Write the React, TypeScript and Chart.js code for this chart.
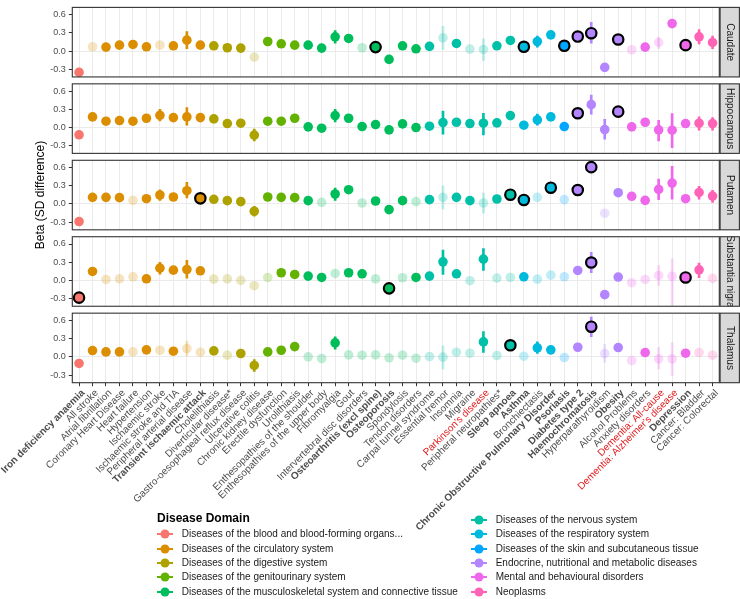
import React, { useEffect, useRef } from 'react';
import { Chart, registerables } from 'chart.js';

Chart.register(...registerables);

const FONT = "'Liberation Sans', Arial, Helvetica, sans-serif";

// Diseases on the x axis, grouped by domain
const categories = [
  'Iron deficiency anaemia',
  'All stroke', 'Atrial fibrillation', 'Coronary Heart Disease', 'Heart failure', 'Hypertension',
  'Ischaemic stroke', 'Ischaemic stroke and TIA', 'Peripheral arterial disease', 'Transient ischaemic attack',
  'Cholelithiasis', 'Diverticular disease*', 'Gastro-oesophageal reflux disease', 'Ulcerative colitis',
  'Chronic kidney disease', 'Erectile dysfunction', 'Urolithiasis',
  'Enthesopathies of the shoulder', 'Enthesopathies of the upper body', 'Fibromyalgia', 'Gout',
  'Intervertebral disc disorders', 'Osteoarthritis (excl spine)', 'Osteoporosis', 'Spondylosis', 'Tendon disorders',
  'Carpal tunnel syndrome', 'Essential tremor', 'Insomnia', 'Migraine', "Parkinson's disease",
  'Peripheral neuropathies*', 'Sleep apnoea',
  'Asthma', 'Bronchiectasis', 'Chronic Obstructive Pulmonary Disorder',
  'Psoriasis',
  'Diabetes type 2', 'Haemochromatosis', 'Hyperparathyroidism', 'Obesity',
  'Alcohol Problems', 'Anxiety disorders', 'Dementia: All-cause', "Dementia: Alzheimer's disease", 'Depression',
  'Cancer: Bladder', 'Cancer: Colorectal',
];

const boldLabels = [
  'Iron deficiency anaemia', 'Transient ischaemic attack', 'Osteoarthritis (excl spine)', 'Osteoporosis',
  'Sleep apnoea', 'Asthma', 'Chronic Obstructive Pulmonary Disorder', 'Psoriasis', 'Diabetes type 2',
  'Haemochromatosis', 'Obesity', 'Depression',
];
const redLabels = ["Parkinson's disease", 'Dementia: All-cause', "Dementia: Alzheimer's disease"];

const domainNames = [
  'Diseases of the blood and blood-forming organs...',
  'Diseases of the circulatory system',
  'Diseases of the digestive system',
  'Diseases of the genitourinary system',
  'Diseases of the musculoskeletal system and connective tissue',
  'Diseases of the nervous system',
  'Diseases of the respiratory system',
  'Diseases of the skin and subcutaneous tissue',
  'Endocrine, nutritional and metabolic diseases',
  'Mental and behavioural disorders',
  'Neoplasms',
];
const domainColors = [
  '#F8766D', '#DB8E00', '#AEA200', '#64B200', '#00BD5C', '#00C1A7',
  '#00BADE', '#00A6FF', '#B385FF', '#EF67EB', '#FF63B6',
];
// domain index of each disease
const categoryDomain = [
  0,
  1, 1, 1, 1, 1, 1, 1, 1, 1,
  2, 2, 2, 2,
  3, 3, 3,
  4, 4, 4, 4, 4, 4, 4, 4, 4,
  5, 5, 5, 5, 5, 5, 5,
  6, 6, 6,
  7,
  8, 8, 8, 8,
  9, 9, 9, 9, 9,
  10, 10,
];

// status: 0 = not significant, 1 = significant, 2 = significant after correction
const caudateBeta = [
  -0.35, 0.071, 0.066, 0.098, 0.109, 0.071, 0.098, 0.087, 0.18, 0.098,
  0.087, 0.055, 0.049, -0.098, 0.158, 0.12, 0.098, 0.098, 0.049, 0.235,
  0.208, 0.055, 0.066, -0.137, 0.087, 0.038, 0.077, 0.219, 0.126, 0.033,
  0.027, 0.087, 0.175, 0.071, 0.158, 0.268, 0.087, 0.24, 0.295, -0.268,
  0.191, 0.022, 0.066, 0.142, 0.453, 0.098, 0.235, 0.142,
];
const caudateStatus = [
  1, 0, 1, 1, 1, 1, 0, 1, 1, 1,
  1, 1, 1, 0, 1, 1, 1, 1, 1, 1,
  1, 0, 2, 1, 1, 1, 1, 0, 1, 0,
  0, 1, 1, 2, 1, 1, 2, 2, 2, 1,
  2, 0, 1, 0, 1, 2, 1, 1,
];
const caudateCI = [
  [8, 0.038, 0.322], [19, 0.131, 0.339], [27, 0.022, 0.41], [30, -0.153, 0.202], [34, 0.066, 0.246],
  [38, 0.13, 0.475], [43, 0.038, 0.23], [46, 0.12, 0.355], [47, 0.038, 0.246],
];

const hippocampusBeta = [
  -0.12, 0.175, 0.104, 0.115, 0.104, 0.153, 0.202, 0.164, 0.175, 0.164,
  0.142, 0.066, 0.071, -0.126, 0.104, 0.104, 0.153, 0.011, -0.011, 0.197,
  0.153, 0.016, 0.049, -0.038, 0.06, 0.0, 0.022, 0.082, 0.087, 0.066,
  0.071, 0.077, 0.197, 0.038, 0.126, 0.175, 0.016, 0.235, 0.377, -0.033,
  0.262, 0.011, 0.087, -0.038, -0.044, 0.066, 0.071, 0.066,
];
const hippocampusStatus = [
  1, 1, 1, 1, 1, 1, 1, 1, 1, 1,
  1, 1, 1, 1, 1, 1, 1, 1, 1, 1,
  1, 1, 1, 1, 1, 1, 1, 1, 1, 1,
  1, 1, 1, 1, 1, 1, 1, 2, 1, 1,
  2, 1, 1, 1, 1, 1, 1, 1,
];
const hippocampusCI = [
  [6, 0.11, 0.3], [8, 0.04, 0.33], [13, -0.22, -0.027], [19, 0.093, 0.3], [27, -0.11, 0.27],
  [30, -0.12, 0.235], [34, 0.038, 0.22], [38, 0.22, 0.535], [39, -0.19, 0.137], [43, -0.22, 0.12],
  [44, -0.33, 0.23], [46, -0.044, 0.175], [47, -0.044, 0.164],
];

const putamenBeta = [
  -0.29, 0.109, 0.109, 0.104, 0.06, 0.087, 0.148, 0.115, 0.219, 0.093,
  0.077, 0.055, 0.038, -0.12, 0.115, 0.109, 0.104, 0.055, 0.027, 0.164,
  0.235, 0.016, 0.049, -0.093, 0.055, 0.038, 0.071, 0.109, 0.109, 0.055,
  0.016, 0.082, 0.153, 0.066, 0.109, 0.268, 0.071, 0.23, 0.607, -0.153,
  0.186, 0.126, 0.06, 0.24, 0.344, 0.087, 0.19, 0.131,
];
const putamenStatus = [
  1, 1, 1, 1, 0, 1, 1, 1, 1, 2,
  1, 1, 1, 1, 1, 1, 1, 1, 0, 1,
  1, 0, 1, 1, 1, 0, 1, 0, 1, 1,
  0, 1, 2, 2, 0, 2, 0, 2, 2, 0,
  1, 1, 1, 1, 1, 1, 1, 1,
];
const putamenCI = [
  [6, 0.06, 0.235], [8, 0.1, 0.355], [13, -0.2, -0.038], [19, 0.06, 0.26], [27, -0.08, 0.3],
  [30, -0.15, 0.18], [43, 0.07, 0.41], [44, 0.08, 0.62], [46, 0.08, 0.29], [47, 0.027, 0.224],
];

const nigraBeta = [
  -0.284, 0.148, 0.016, 0.027, 0.06, 0.027, 0.202, 0.169, 0.18, 0.158,
  0.022, 0.027, 0.0, -0.087, 0.049, 0.126, 0.098, 0.071, 0.049, 0.115,
  0.126, 0.109, 0.027, -0.131, 0.044, 0.049, 0.071, 0.306, 0.109, -0.005,
  0.35, 0.038, 0.049, 0.06, 0.022, 0.087, 0.06, 0.164, 0.295, -0.235,
  0.055, -0.038, 0.016, 0.082, 0.066, 0.049, 0.175, 0.033,
];
const nigraStatus = [
  2, 1, 0, 0, 0, 1, 1, 1, 1, 1,
  0, 0, 0, 0, 0, 1, 1, 1, 1, 0,
  1, 1, 0, 2, 0, 1, 1, 1, 1, 0,
  1, 0, 0, 1, 0, 0, 0, 1, 2, 1,
  1, 0, 0, 0, 0, 2, 1, 0,
];
const nigraCI = [
  [6, 0.104, 0.3], [8, 0.038, 0.33], [27, 0.1, 0.5], [30, 0.164, 0.525], [38, 0.126, 0.464],
  [43, -0.082, 0.246], [44, -0.41, 0.355], [46, 0.044, 0.284],
];

const thalamusBeta = [
  -0.109, 0.104, 0.082, 0.082, 0.082, 0.115, 0.109, 0.093, 0.137, 0.077,
  0.098, 0.027, 0.055, -0.142, 0.082, 0.109, 0.169, 0.0, -0.027, 0.23,
  0.033, 0.027, 0.033, -0.016, 0.027, -0.022, 0.005, -0.005, 0.077, 0.06,
  0.246, 0.022, 0.19, 0.011, 0.148, 0.115, -0.011, 0.158, 0.497, 0.055,
  0.153, -0.06, 0.071, -0.033, -0.033, 0.06, 0.071, 0.027,
];
const thalamusStatus = [
  1, 1, 1, 1, 0, 1, 0, 1, 0, 0,
  1, 0, 1, 1, 1, 1, 1, 0, 0, 1,
  0, 0, 0, 0, 0, 0, 0, 0, 0, 0,
  1, 0, 2, 0, 1, 1, 0, 1, 2, 0,
  1, 0, 1, 0, 0, 1, 0, 0,
];
const thalamusCI = [
  [8, 0.016, 0.26], [13, -0.24, -0.044], [19, 0.126, 0.328], [27, -0.2, 0.18], [30, 0.071, 0.415],
  [34, 0.055, 0.246], [38, 0.333, 0.656], [39, -0.093, 0.208], [43, -0.2, 0.153], [44, -0.31, 0.235],
];

const panelNames = ['Caudate', 'Hippocampus', 'Putamen', 'Substantia nigra', 'Thalamus'];
const panelBeta = [caudateBeta, hippocampusBeta, putamenBeta, nigraBeta, thalamusBeta];
const panelStatus = [caudateStatus, hippocampusStatus, putamenStatus, nigraStatus, thalamusStatus];
const panelCI = [caudateCI, hippocampusCI, putamenCI, nigraCI, thalamusCI];

const yTickValues = [-0.3, 0, 0.3, 0.6];

// facet geometry: each facet shows PANEL_MIN..PANEL_MAX, facets separated by a gap
const PANEL_MIN = -0.426;
const PANEL_MAX = 0.72;
const PANEL_H = 70.5;
const PANEL_GAP = 7;
const EXT = ((PANEL_GAP / 2) / PANEL_H) * (PANEL_MAX - PANEL_MIN);
const FADED = 0.25;

const axisId = (i: number) => `y${i}`;

function rgba(hex: string, a: number) {
  const n = parseInt(hex.slice(1), 16);
  return `rgba(${(n >> 16) & 255}, ${(n >> 8) & 255}, ${n & 255}, ${a})`;
}

const facetPlugin = {
  id: 'facets',
  beforeDatasetsDraw(chart: any) {
    const { ctx, chartArea } = chart;
    ctx.save();
    ctx.fillStyle = '#FFFFFF';
    for (let i = 0; i < panelNames.length - 1; i++) {
      const y0 = chart.scales[axisId(i)].getPixelForValue(PANEL_MIN);
      const y1 = chart.scales[axisId(i + 1)].getPixelForValue(PANEL_MAX);
      ctx.fillRect(chartArea.left - 1, y0, chartArea.right - chartArea.left + 2, y1 - y0);
    }
    ctx.restore();
  },
  afterDatasetsDraw(chart: any) {
    const { ctx, chartArea } = chart;
    ctx.save();
    const stripLeft = chartArea.right + 0.8;
    const stripRight = 739.4;
    panelNames.forEach((name, i) => {
      const s = chart.scales[axisId(i)];
      const top = s.getPixelForValue(PANEL_MAX);
      const bottom = s.getPixelForValue(PANEL_MIN);
      ctx.strokeStyle = '#333333';
      ctx.lineWidth = 1.1;
      ctx.strokeRect(chartArea.left, top, chartArea.right - chartArea.left, bottom - top);
      ctx.fillStyle = '#D9D9D9';
      ctx.fillRect(stripLeft, top, stripRight - stripLeft, bottom - top);
      ctx.strokeRect(stripLeft, top, stripRight - stripLeft, bottom - top);
      ctx.save();
      ctx.beginPath();
      ctx.rect(stripLeft, top, stripRight - stripLeft, bottom - top);
      ctx.clip();
      ctx.translate((stripLeft + stripRight) / 2, (top + bottom) / 2);
      ctx.rotate(Math.PI / 2);
      ctx.fillStyle = '#1A1A1A';
      ctx.font = `10px ${FONT}`;
      ctx.textAlign = 'center';
      ctx.textBaseline = 'middle';
      ctx.fillText(name, 0, 0);
      ctx.restore();
    });
    ctx.restore();
  },
};

export default function App() {
  const canvasRef = useRef<HTMLCanvasElement>(null);

  useEffect(() => {
    document.body.style.margin = '0';
    const canvas = canvasRef.current;
    if (!canvas) return;

    const datasets: any[] = [];
    panelNames.forEach((name, i) => {
      const status = panelStatus[i];
      const colors = categories.map((_, k) => {
        const c = domainColors[categoryDomain[k]];
        return status[k] === 0 ? rgba(c, FADED) : c;
      });
      const ranges: any[] = categories.map(() => null);
      panelCI[i].forEach(([k, lo, hi]) => {
        ranges[k] = [lo, hi];
      });
      datasets.push({
        type: 'bar',
        label: `${name} interval`,
        data: ranges,
        xAxisID: 'x',
        yAxisID: axisId(i),
        backgroundColor: colors,
        borderWidth: 0,
        barThickness: 2,
        grouped: false,
        order: 2,
      });
      datasets.push({
        type: 'line',
        label: name,
        data: panelBeta[i],
        xAxisID: 'x',
        yAxisID: axisId(i),
        showLine: false,
        pointRadius: status.map((s) => (s === 2 ? 5.2 : 4.8)),
        pointBackgroundColor: colors,
        pointBorderColor: status.map((s) => (s === 2 ? '#000000' : 'rgba(0,0,0,0)')),
        pointBorderWidth: status.map((s) => (s === 2 ? 2.2 : 0)),
        order: 1,
      });
    });

    const scales: any = {
      x: {
        type: 'category',
        offset: true,
        grid: { offset: false, color: '#EBEBEB', lineWidth: 1, tickColor: '#333333', tickLength: 3.5, tickWidth: 1 },
        border: { display: false },
        ticks: {
          autoSkip: false,
          minRotation: 45,
          maxRotation: 45,
          padding: 1,
          labelOffset: 4.2,
          color: (c: any) => (redLabels.includes(categories[c.index]) ? '#E41A1C' : '#4D4D4D'),
          font: (c: any) => ({
            family: FONT,
            size: 10,
            weight: boldLabels.includes(categories[c.index]) ? 'bold' : 'normal',
          }),
        },
        afterFit: (s: any) => {
          s.height = 216.3;
          s.paddingLeft = 0;
          s.paddingRight = 0;
        },
      },
    };

    // last defined left axis is stacked on top, so add facets bottom-up
    for (let i = panelNames.length - 1; i >= 0; i--) {
      const first = i === 0;
      const last = i === panelNames.length - 1;
      scales[axisId(i)] = {
        type: 'linear',
        position: 'left',
        stack: 'facets',
        stackWeight: PANEL_H + (first || last ? PANEL_GAP / 2 : PANEL_GAP),
        min: PANEL_MIN - (last ? 0 : EXT),
        max: PANEL_MAX + (first ? 0 : EXT),
        grid: {
          color: (c: any) => (c.tick && c.tick.value === 0 ? '#EBEBEB' : 'rgba(0,0,0,0)'),
          lineWidth: 1,
          tickColor: '#333333',
          tickLength: 3.5,
          tickWidth: 1,
        },
        border: { display: false },
        ticks: {
          color: '#4D4D4D',
          font: { family: FONT, size: 9 },
          padding: 3,
          callback: (v: any) => Number(v).toFixed(1),
        },
        title: i === 2
          ? {
              display: true,
              text: 'Beta (SD difference)',
              color: '#000000',
              font: { family: FONT, size: 12 },
              padding: { top: 33.1, bottom: 0 },
            }
          : { display: false },
        afterBuildTicks: (s: any) => {
          s.ticks = yTickValues.map((v) => ({ value: v }));
        },
        afterFit: (s: any) => {
          s.width = 72.3;
          s.paddingTop = 0;
          s.paddingBottom = 0;
        },
      };
    }

    const chart = new Chart(canvas, {
      type: 'bar',
      data: { labels: categories, datasets },
      options: {
        responsive: false,
        animation: false,
        devicePixelRatio: 1,
        events: [],
        layout: { padding: { top: 1.7, right: 20.7, left: 0, bottom: 0 } },
        plugins: {
          legend: { display: false },
          tooltip: { enabled: false },
        },
        scales,
      } as any,
      plugins: [facetPlugin],
    } as any);

    return () => chart.destroy();
  }, []);

  return (
    <div style={{ position: 'relative', width: 740, height: 599, fontFamily: FONT, overflow: 'hidden' }}>
      <canvas ref={canvasRef} width={740} height={599} style={{ display: 'block' }} />
      <div
        style={{
          position: 'absolute', left: 157, top: 510.3, fontSize: 12, fontWeight: 'bold',
          lineHeight: '16px', color: '#000000', whiteSpace: 'nowrap',
        }}
      >
        Disease Domain
      </div>
      {domainNames.map((name, k) => {
        const col = k < 5 ? 0 : 1;
        const row = k < 5 ? k + 1 : k - 5;
        const cx = col === 0 ? 165 : 479;
        const cy = 520 + row * 14.3;
        const color = domainColors[k];
        return (
          <React.Fragment key={name}>
            <svg
              width={18}
              height={12}
              style={{ position: 'absolute', left: cx - 9, top: cy - 6 }}
            >
              <line x1={1} y1={6} x2={17} y2={6} stroke={color} strokeWidth={2} />
              <circle cx={9} cy={6} r={4.5} fill={color} />
            </svg>
            <div
              style={{
                position: 'absolute', left: col === 0 ? 181.7 : 495.7, top: cy - 7, fontSize: 10,
                lineHeight: '14px', color: '#1A1A1A', whiteSpace: 'nowrap',
              }}
            >
              {name}
            </div>
          </React.Fragment>
        );
      })}
    </div>
  );
}
